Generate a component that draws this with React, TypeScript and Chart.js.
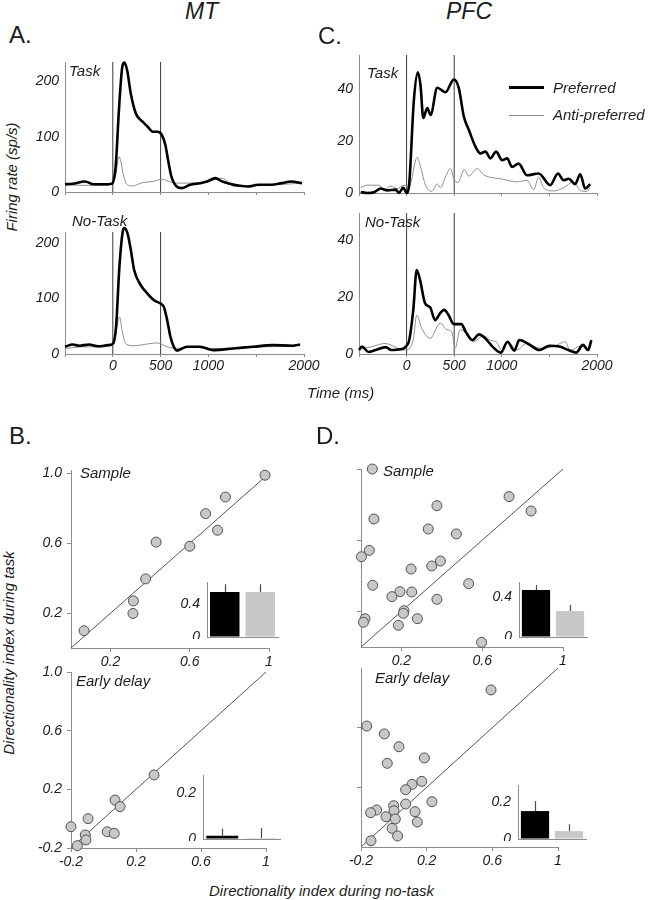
import React, { useEffect, useRef } from 'react';
import { Chart, registerables } from 'chart.js';

Chart.register(...registerables);

const FONT = "'Liberation Sans', Arial, Helvetica, sans-serif";
const AXIS_COLOR = '#8c8c8c';
const TEXT_COLOR = '#1c1c1c';
const PREF_COLOR = '#000000';
const ANTI_COLOR = '#8e8e8e';
const EVENT_COLOR = '#3a3a3a';
const DOT_FILL = '#c8c8c8';
const DOT_EDGE = '#505050';
const BAR_COLORS = ['#000000', '#c8c8c8'];

Chart.defaults.font.family = FONT;
Chart.defaults.color = TEXT_COLOR;

// ---------- PSTH data: [time (ms), firing rate (sp/s)] ----------
const mtTaskPreferred: [number, number][] = [
  [-500, 14], [-420, 15], [-290, 19], [-200, 14], [-100, 14], [-10, 15], [30, 46], [64, 148], [99, 226],
  [122, 234], [150, 220], [188, 178], [241, 142], [312, 127], [365, 118], [418, 109], [471, 109], [514, 103],
  [550, 85], [578, 58], [613, 28], [667, 10], [720, 7], [809, 13], [915, 16], [986, 19], [1074, 25], [1145, 19],
  [1269, 13], [1411, 10], [1518, 13], [1660, 13], [1766, 16], [1865, 19], [1980, 16],
];
const mtTaskAnti: [number, number][] = [
  [-500, 13], [-300, 12], [-100, 12], [0, 15], [30, 30], [64, 64], [85, 55], [105, 35], [152, 13], [205, 11],
  [312, 17], [418, 19], [521, 23], [585, 19], [688, 16], [915, 17], [1057, 22], [1145, 25], [1269, 10],
  [1400, 10], [1600, 13], [1800, 14], [1980, 16],
];
const mtNoTaskPreferred: [number, number][] = [
  [-500, 13], [-420, 17], [-350, 15], [-250, 17], [-150, 14], [-50, 16], [0, 18], [34, 49], [69, 157], [103, 220],
  [120, 227], [155, 217], [189, 187], [224, 151], [293, 124], [362, 109], [431, 97], [500, 91], [534, 85],
  [569, 61], [603, 31], [638, 13], [672, 6], [776, 13], [914, 13], [1052, 7], [1259, 10], [1466, 13],
  [1673, 16], [1880, 15], [1960, 17],
];
const mtNoTaskAnti: [number, number][] = [
  [-500, 10], [-300, 13], [-100, 13], [10, 18], [40, 45], [69, 67], [103, 37], [138, 18], [224, 15], [362, 18],
  [466, 20], [569, 13], [672, 10], [800, 13], [1000, 10], [1200, 10], [1400, 12], [1600, 13], [1800, 14], [1960, 16],
];
const pfcTaskPreferred: [number, number][] = [
  [-482, 0.4], [-412, 0], [-342, 0.3], [-272, 1.7], [-203, 1], [-115, 1.3], [-80, 0], [-35, 2.1], [0, 0], [24, 2.3],
  [77, 36], [119, 46.4], [147, 41], [175, 28.8], [217, 32.6], [252, 30], [322, 40.4], [409, 38.7], [496, 43.6],
  [548, 40.4], [601, 29.4], [653, 24.3], [723, 17.8], [776, 15.2], [828, 15.9], [881, 13.3], [940, 15.9],
  [1003, 12.6], [1056, 13.3], [1108, 10], [1177, 11.3], [1265, 6.8], [1387, 7.5], [1509, 3], [1590, 7.5],
  [1649, 4.9], [1702, 5.5], [1771, 3.4], [1824, 7.2], [1876, 1.7], [1929, 3.4],
];
const pfcTaskAnti: [number, number][] = [
  [-482, 2.1], [-412, 3], [-290, 3], [-237, 1], [-167, 2.7], [-97, 1.7], [-28, 3], [24, 2.3], [112, 13.7],
  [147, 10], [199, 3], [262, 0.6], [322, 3.5], [357, 2], [409, 6.2], [461, 9.4], [496, 5.5], [538, 4], [608, 9],
  [653, 6.5], [741, 9.4], [811, 7], [881, 6], [986, 5.5], [1056, 4.9], [1160, 4.3], [1265, 4.9], [1335, 1.3],
  [1387, 6], [1440, 2], [1544, 0.8], [1649, 2], [1754, 4.3], [1824, 1], [1894, 0.6], [1929, 2],
];
const pfcNoTaskPreferred: [number, number][] = [
  [-500, 1.4], [-470, 2.6], [-400, 0.7], [-324, 1.4], [-220, 2.4], [-160, 1.4], [-85, 1.6], [17, 3.7], [70, 15.4],
  [106, 29.5], [141, 26], [194, 17.8], [247, 16.4], [299, 11.9], [352, 14.3], [395, 15.5], [440, 13.7],
  [496, 10.5], [574, 10.5], [621, 7.8], [691, 4.9], [761, 6.9], [832, 5.3], [902, 2.6], [990, 0.5], [1060, 4.3],
  [1131, 1.2], [1184, 4.9], [1272, 3.7], [1395, 1.4], [1501, 2.9], [1607, 2.6], [1712, 1.2], [1782, 0.5],
  [1853, 3.2], [1906, 1.4], [1941, 4.9],
];
const pfcNoTaskAnti: [number, number][] = [
  [-500, 1.6], [-365, 2.6], [-224, 3.7], [-90, 2], [-19, 1.4], [70, 4.9], [106, 13.7], [159, 9], [247, 5.5],
  [352, 10.8], [423, 8.6], [475, 7.8], [510, 2], [562, 8.6], [632, 7], [702, 4.3], [808, 6.4], [878, 4.9],
  [949, 4], [998, 1.2], [1068, 4], [1156, 1.4], [1261, 3.7], [1402, 2], [1543, 2.6], [1666, 4.3], [1719, 1.2],
  [1824, 2.8], [1930, 1.2],
];

const timeTicks = [-500, 0, 500, 1000, 1500, 2000];
const timeTickLabels = ['', '0', '500', '1000', '', '2000'];
const eventTimes = [0, 500];
const mtRateTicks = [0, 100, 200];
const pfcRateTicks = [0, 20, 40];

// ---------- Directionality index: [no-task, task] ----------
const mtSample: [number, number][] = [
  [0.98, 0.99], [0.78, 0.865], [0.68, 0.77], [0.74, 0.675], [0.43, 0.607], [0.6, 0.583], [0.377, 0.396],
  [0.315, 0.27], [0.313, 0.198], [0.066, 0.099],
];
const mtEarlyDelay: [number, number][] = [
  [0.311, 0.298], [0.071, 0.127], [0.102, 0.082], [-0.095, 0.0], [-0.2, -0.055], [0.023, -0.089], [0.066, -0.1],
  [-0.112, -0.111], [-0.108, -0.145], [-0.161, -0.184],
];
const pfcSample: [number, number][] = [
  [0.056, 1.0], [0.733, 0.845], [0.842, 0.764], [0.376, 0.794], [0.064, 0.719], [0.333, 0.663], [0.472, 0.635],
  [0.041, 0.543], [0.002, 0.507], [0.393, 0.483], [0.35, 0.455], [0.248, 0.438], [0.533, 0.356], [0.058, 0.347],
  [0.251, 0.309], [0.193, 0.311], [0.153, 0.283], [0.376, 0.268], [0.213, 0.204], [0.21, 0.189], [0.279, 0.159],
  [0.02, 0.159], [0.012, 0.139], [0.185, 0.122], [0.597, 0.026],
];
const pfcEarlyDelay: [number, number][] = [
  [0.592, 0.853], [-0.165, 0.611], [-0.058, 0.558], [0.031, 0.472], [0.186, 0.397], [-0.04, 0.361], [0.17, 0.24],
  [0.111, 0.22], [0.072, 0.184], [0.232, 0.104], [0.072, 0.088], [-0.001, 0.077], [-0.105, 0.048], [-0.141, 0.03],
  [0.129, 0.037], [0.001, 0.043], [-0.048, 0.003], [0.009, -0.012], [0.143, -0.032], [-0.011, -0.075],
  [0.023, -0.126], [-0.139, -0.158],
];
const sampleTicks = [0.2, 0.6, 1];
const sampleXLabels = ['0.2', '0.6', '1'];
const sampleYLabels = ['0.2', '0.6', '1.0'];
const delayTicks = [-0.2, 0.2, 0.6, 1];
const delayXLabels = ['-0.2', '0.2', '0.6', '1'];
const delayYLabels = ['-0.2', '0.2', '0.6', '1.0'];
const pfcDelayYTicks = [0.2, 0.6];

// ---------- Inset bars: mean directionality index (task, no-task) ----------
const barCategories = ['Task', 'No-task'];
const mtSampleMeans = [0.545, 0.545];
const mtSampleErr = [0.64, 0.64];
const mtDelayMeans = [0.014, 0.004];
const mtDelayErr = [0.045, 0.048];
const pfcSampleMeans = [0.47, 0.26];
const pfcSampleErr = [0.52, 0.32];
const pfcDelayMeans = [0.151, 0.043];
const pfcDelayErr = [0.205, 0.08];
const barTicksHigh = [0, 0.4];
const barTicksLow = [0, 0.2];

// ---------- helpers ----------
const tickFont = { family: FONT, size: 14, style: 'italic' as const };
const toXY = (pairs: [number, number][]) => pairs.map(([x, y]) => ({ x, y }));
const setTicks = (vals: number[]) => (s: any) => {
  s.ticks = vals.map((v) => ({ value: v }));
};
const labelFor = (vals: number[], labels: string[]) => (v: any) => {
  const i = vals.findIndex((t) => Math.abs(t - Number(v)) < 1e-9);
  return i >= 0 ? labels[i] : '';
};

type Box = { l: number; t: number; r: number; b: number };

function ChartPanel(props: { box: Box; yw: number; xh: number; padT?: number; padR?: number; build: () => any; z?: number }) {
  const { box, yw, xh, padT = 12, padR = 26, build, z = 1 } = props;
  const ref = useRef<HTMLCanvasElement>(null);
  const w = Math.round(box.r - box.l + yw + padR);
  const h = Math.round(box.b - box.t + padT + xh);
  useEffect(() => {
    const cfg = build();
    cfg.options = cfg.options || {};
    cfg.options.responsive = false;
    cfg.options.maintainAspectRatio = false;
    cfg.options.animation = false;
    cfg.options.events = [];
    cfg.options.layout = { padding: { left: 0, right: padR, top: padT, bottom: 0 } };
    cfg.options.plugins = { ...(cfg.options.plugins || {}), legend: { display: false }, tooltip: { enabled: false } };
    cfg.options.scales.x.afterFit = (s: any) => {
      s.height = xh;
      s.paddingLeft = 0;
      s.paddingRight = 0;
      s.paddingTop = 0;
      s.paddingBottom = 0;
    };
    cfg.options.scales.y.afterFit = (s: any) => {
      s.width = yw;
      s.paddingLeft = 0;
      s.paddingRight = 0;
      s.paddingTop = 0;
      s.paddingBottom = 0;
    };
    const chart = new Chart(ref.current as HTMLCanvasElement, cfg);
    return () => chart.destroy();
  }, []);
  return (
    <canvas
      ref={ref}
      width={w}
      height={h}
      style={{ position: 'absolute', left: box.l - yw, top: box.t - padT, width: w, height: h, zIndex: z }}
    />
  );
}

function psthConfig(pref: [number, number][], anti: [number, number][], yMax: number, yTicks: number[], showTimeLabels: boolean) {
  return {
    type: 'line',
    data: {
      datasets: [
        { data: toXY(pref), borderColor: PREF_COLOR, borderWidth: 2.6, pointRadius: 0, cubicInterpolationMode: 'monotone', clip: 8 },
        { data: toXY(anti), borderColor: ANTI_COLOR, borderWidth: 1, pointRadius: 0, cubicInterpolationMode: 'monotone', clip: 8 },
        ...eventTimes.map((t) => ({
          data: [{ x: t, y: 0 }, { x: t, y: yMax }],
          borderColor: EVENT_COLOR,
          borderWidth: 1,
          pointRadius: 0,
        })),
      ],
    },
    options: {
      scales: {
        x: {
          type: 'linear',
          min: -500,
          max: 2000,
          afterBuildTicks: setTicks(timeTicks),
          ticks: {
            display: showTimeLabels,
            autoSkip: false,
            maxRotation: 0,
            padding: 1,
            font: tickFont,
            color: TEXT_COLOR,
            callback: labelFor(timeTicks, timeTickLabels),
          },
          grid: { drawOnChartArea: false, tickLength: 3, color: AXIS_COLOR },
          border: { color: AXIS_COLOR, width: 1 },
        },
        y: {
          type: 'linear',
          min: 0,
          max: yMax,
          afterBuildTicks: setTicks(yTicks),
          ticks: { padding: 6, font: tickFont, color: TEXT_COLOR, callback: (v: any) => String(v) },
          grid: { drawOnChartArea: false, drawTicks: false, color: AXIS_COLOR },
          border: { color: AXIS_COLOR, width: 1 },
        },
      },
    },
  };
}

function scatterConfig(
  pts: [number, number][],
  lo: number,
  yMax: number,
  xTicks: number[],
  xLabels: string[],
  yTicks: number[],
  yLabels: string[] | null,
) {
  return {
    type: 'scatter',
    data: {
      datasets: [
        {
          data: toXY(pts),
          pointRadius: 5,
          pointBackgroundColor: DOT_FILL,
          pointBorderColor: DOT_EDGE,
          pointBorderWidth: 1,
          clip: false,
        },
        {
          type: 'line',
          data: [{ x: lo, y: lo }, { x: 1, y: 1 }],
          borderColor: '#555555',
          borderWidth: 1,
          pointRadius: 0,
          showLine: true,
        },
      ],
    },
    options: {
      scales: {
        x: {
          type: 'linear',
          min: lo,
          max: 1,
          afterBuildTicks: setTicks(xTicks),
          ticks: { autoSkip: false, maxRotation: 0, padding: 2, font: tickFont, color: TEXT_COLOR, callback: labelFor(xTicks, xLabels) },
          grid: { drawOnChartArea: false, tickLength: 4, color: AXIS_COLOR },
          border: { color: AXIS_COLOR, width: 1 },
        },
        y: {
          type: 'linear',
          min: lo,
          max: yMax,
          afterBuildTicks: setTicks(yTicks),
          ticks: {
            display: !!yLabels,
            padding: 5,
            font: tickFont,
            color: TEXT_COLOR,
            callback: yLabels ? labelFor(yTicks, yLabels) : () => '',
          },
          grid: { drawOnChartArea: false, tickLength: 4, color: AXIS_COLOR },
          border: { color: AXIS_COLOR, width: 1 },
        },
      },
    },
  };
}

function barConfig(means: number[], errs: number[], yMax: number, yTicks: number[]) {
  const errorBars = {
    id: 'errorBars',
    afterDatasetsDraw(chart: any) {
      const meta = chart.getDatasetMeta(0);
      const ys = chart.scales.y;
      const ctx = chart.ctx;
      ctx.save();
      ctx.strokeStyle = '#4a4a4a';
      ctx.lineWidth = 1.2;
      meta.data.forEach((bar: any, i: number) => {
        const top = ys.getPixelForValue(errs[i]);
        ctx.beginPath();
        ctx.moveTo(Math.round(bar.x) + 0.5, bar.y);
        ctx.lineTo(Math.round(bar.x) + 0.5, top);
        ctx.stroke();
      });
      ctx.restore();
    },
  };
  return {
    type: 'bar',
    data: {
      labels: barCategories,
      datasets: [
        {
          data: means,
          backgroundColor: BAR_COLORS,
          borderWidth: 0,
          barPercentage: 0.83,
          categoryPercentage: 1,
        },
      ],
    },
    plugins: [errorBars],
    options: {
      scales: {
        x: {
          type: 'category',
          ticks: { display: false },
          grid: { display: true, drawOnChartArea: false, drawTicks: false, color: AXIS_COLOR },
          border: { color: AXIS_COLOR, width: 1 },
        },
        y: {
          type: 'linear',
          min: 0,
          max: yMax,
          afterBuildTicks: setTicks(yTicks),
          ticks: { padding: 7, font: tickFont, color: TEXT_COLOR, callback: (v: any) => String(v) },
          grid: { drawOnChartArea: false, drawTicks: false, color: AXIS_COLOR },
          border: { color: AXIS_COLOR, width: 1 },
        },
      },
    },
  };
}

function Label(props: { x: number; y: number; text: string; size?: number; italic?: boolean; z?: number }) {
  const { x, y, text, size = 15, italic = true, z = 5 } = props;
  return (
    <div
      style={{
        position: 'absolute',
        left: x,
        top: y,
        font: `${italic ? 'italic ' : ''}${size}px ${FONT}`,
        lineHeight: 1,
        whiteSpace: 'nowrap',
        color: TEXT_COLOR,
        zIndex: z,
      }}
    >
      {text}
    </div>
  );
}

function VLabel(props: { cx: number; cy: number; text: string; size?: number }) {
  const { cx, cy, text, size = 15 } = props;
  return (
    <div
      style={{
        position: 'absolute',
        left: cx,
        top: cy,
        transform: 'translate(-50%, -50%) rotate(-90deg)',
        font: `italic ${size}px ${FONT}`,
        lineHeight: 1,
        whiteSpace: 'nowrap',
        color: TEXT_COLOR,
      }}
    >
      {text}
    </div>
  );
}

export default function App() {
  return (
    <div style={{ position: 'absolute', left: 0, top: 0, width: 648, height: 900, background: '#ffffff', overflow: 'hidden' }}>
      {/* Column titles and panel letters */}
      <Label x={185} y={0} text="MT" size={23} />
      <Label x={446} y={0} text="PFC" size={23} />
      <Label x={9} y={23} text="A." size={24} italic={false} />
      <Label x={318} y={24} text="C." size={24} italic={false} />
      <Label x={9} y={424} text="B." size={24} italic={false} />
      <Label x={316} y={424} text="D." size={24} italic={false} />

      {/* PSTH panels */}
      <ChartPanel box={{ l: 65, t: 62, r: 304, b: 192 }} yw={44} xh={8} build={() => psthConfig(mtTaskPreferred, mtTaskAnti, 235, mtRateTicks, false)} />
      <ChartPanel box={{ l: 65, t: 232, r: 304, b: 354 }} yw={44} xh={22} build={() => psthConfig(mtNoTaskPreferred, mtNoTaskAnti, 220, mtRateTicks, true)} />
      <ChartPanel box={{ l: 359, t: 55, r: 597, b: 193 }} yw={44} xh={8} build={() => psthConfig(pfcTaskPreferred, pfcTaskAnti, 53, pfcRateTicks, false)} />
      <ChartPanel box={{ l: 359, t: 213, r: 597, b: 354 }} yw={44} xh={22} build={() => psthConfig(pfcNoTaskPreferred, pfcNoTaskAnti, 49.5, pfcRateTicks, true)} />

      <Label x={69} y={63} text="Task" />
      <Label x={72} y={213} text="No-Task" />
      <Label x={367} y={65} text="Task" />
      <Label x={365} y={214} text="No-Task" />

      {/* legend */}
      <div style={{ position: 'absolute', left: 509, top: 86, width: 35, height: 2.6, background: PREF_COLOR }} />
      <div style={{ position: 'absolute', left: 509, top: 114.5, width: 35, height: 1, background: ANTI_COLOR }} />
      <Label x={553} y={80} text="Preferred" />
      <Label x={553} y={107} text="Anti-preferred" />

      <VLabel cx={11} cy={177} text="Firing rate (sp/s)" />
      <Label x={307} y={385} text="Time (ms)" />

      {/* Scatter panels */}
      <ChartPanel box={{ l: 71, t: 470, r: 269, b: 648 }} yw={44} xh={22} build={() => scatterConfig(mtSample, 0, 1.02, sampleTicks, sampleXLabels, sampleTicks, sampleYLabels)} />
      <ChartPanel box={{ l: 71, t: 672, r: 266, b: 848 }} yw={44} xh={22} build={() => scatterConfig(mtEarlyDelay, -0.2, 1, delayTicks, delayXLabels, delayTicks, delayYLabels)} />
      <ChartPanel box={{ l: 361, t: 469, r: 563, b: 647 }} yw={44} xh={22} build={() => scatterConfig(pfcSample, 0, 1, sampleTicks, sampleXLabels, sampleTicks, null)} />
      <ChartPanel box={{ l: 361, t: 668, r: 558, b: 847 }} yw={44} xh={22} build={() => scatterConfig(pfcEarlyDelay, -0.2, 1, delayTicks, delayXLabels, pfcDelayYTicks, null)} />

      {/* Inset bar charts */}
      <ChartPanel box={{ l: 207, t: 582, r: 278, b: 637 }} yw={34} xh={2} padT={6} padR={6} z={3} build={() => barConfig(mtSampleMeans, mtSampleErr, 0.667, barTicksHigh)} />
      <ChartPanel box={{ l: 203, t: 775, r: 280, b: 839 }} yw={34} xh={2} padT={6} padR={6} z={3} build={() => barConfig(mtDelayMeans, mtDelayErr, 0.278, barTicksLow)} />
      <ChartPanel box={{ l: 519, t: 582, r: 587, b: 637 }} yw={34} xh={2} padT={6} padR={6} z={3} build={() => barConfig(pfcSampleMeans, pfcSampleErr, 0.55, barTicksHigh)} />
      <ChartPanel box={{ l: 518, t: 785, r: 586, b: 839 }} yw={34} xh={2} padT={6} padR={6} z={3} build={() => barConfig(pfcDelayMeans, pfcDelayErr, 0.292, barTicksLow)} />

      <Label x={80} y={465} text="Sample" />
      <Label x={76} y={673} text="Early delay" />
      <Label x={383} y={463} text="Sample" />
      <Label x={375} y={670} text="Early delay" />

      <VLabel cx={8} cy={653} text="Directionality index during task" />
      <Label x={209} y={883} text="Directionality index during no-task" />
    </div>
  );
}
